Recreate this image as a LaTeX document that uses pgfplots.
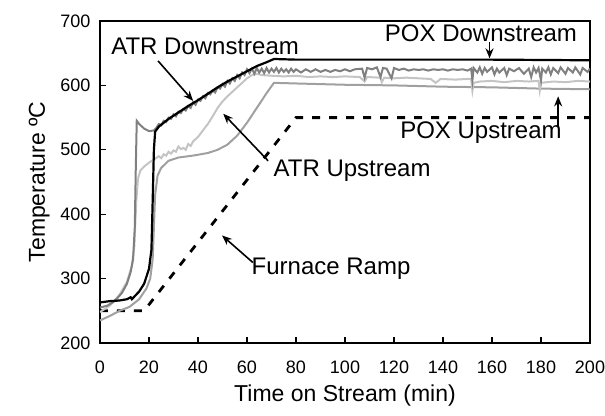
\documentclass[border=0pt]{standalone}
\usepackage{fontspec}
\setmainfont{Liberation Sans}
\usepackage{pgfplots}
\pgfplotsset{compat=1.18}
\usetikzlibrary{arrows.meta}

\definecolor{atrdown}{RGB}{128,128,128}
\definecolor{atrup}{RGB}{196,196,196}
\definecolor{poxup}{RGB}{160,160,160}

\begin{document}
\begin{tikzpicture}
\useasboundingbox (-100bp,-73bp) rectangle (505bp,343bp);
\begin{axis}[
  scale only axis,
  width=490bp, height=322bp,
  xmin=0, xmax=200, ymin=200, ymax=700,
  xtick={0,20,...,200}, ytick={200,300,...,700},
  tick align=inside, xtick pos=left, ytick pos=left,
  major tick length=6bp,
  axis line style={line width=1.3bp},
  every tick/.style={line width=1.1bp, black},
  /pgf/number format/assume math mode=true,
  ticklabel style={font=\fontsize{18bp}{20bp}\selectfont},
  xticklabel style={yshift=-14bp},
  yticklabel style={xshift=-6bp},
  label style={font=\fontsize{23bp}{26bp}\selectfont},
  xlabel={Time on Stream (min)},
  ylabel={Temperature ºC},
  xlabel style={yshift=-5bp},
  ylabel style={yshift=4bp},
  clip=true,
]
% Furnace ramp set point
\addplot[black, line width=2.8bp, dash pattern=on 8bp off 9bp] coordinates {
  (0,250) (18,250) (80,550) (200,550)
};
% POX upstream thermocouple
\addplot[poxup, line width=2bp] coordinates {
  (0,235) (4,242) (8,250) (12,256) (16,268) (19,285) (20.5,300) (21.5,330)
  (22,380) (22.5,430) (23.5,460) (25,472) (28,483) (32,488) (38,491) (44,495)
  (48,500) (52,508) (56,522) (60,542) (64,565) (68,588) (71,604) (80,603)
  (100,601) (120,600) (140,598) (160,597) (180,595) (200,594)
};
% ATR upstream thermocouple
\addplot[atrup, line width=2bp] coordinates {
  (0,248) (4,258) (8,275) (11,295) (13,320) (14,350) (14.8,420) (15.5,455)
  (16.5,468) (18,474) (20,480) (22,485) (24,490) (25,487) (26,493) (27,491)
  (28,497) (29,494) (30,499) (31,497) (32,505) (33,501) (34,503) (35,500)
  (36,509) (37,506) (38,513) (40,520) (42,530) (44,540) (46,552) (48,565)
  (50,575) (52,583) (54,590) (56,597) (58,604) (60,611) (62,616) (64,618)
  (66,616) (70,615) (75,614) (80,615) (85,613) (90,614) (95,613) (100,614)
  (106,613) (108,606) (109,613) (114.5,612) (115,605) (116,612) (120,611)
  (125,612) (130,611) (135,610) (137,604) (139,610) (145,609) (150,610)
  (151.5,610) (152,592) (152.5,604) (155,606) (160,607) (165,605) (170,607)
  (175,606) (179,607) (179.5,592) (180,604) (185,606) (190,605) (195,607)
  (200,606)
};
% ATR downstream thermocouple
\addplot[atrdown, line width=2bp] coordinates {
  (0,255) (3,258) (6,265) (9,278) (11,292) (12.5,310) (13.5,330) (14.2,380)
  (14.6,470) (15,545) (16,540) (18,533) (20,529) (22,530) (23,534) (24,540)
  (25,538) (26,545) (27,543) (28,550) (29,548) (30,555) (31,552) (32,559)
  (33,557) (34,563) (35,561) (36,568) (37,565) (38,574) (39,570) (40,578)
  (41,576) (42,583) (43,580) (44,588) (45,586) (46,592) (47,589) (48,597)
  (49,595) (50,602) (51,598) (52,607) (53,603) (54,611) (55,607) (56,616)
  (57,611) (58,620) (59,616) (60,625) (61,619) (62,626) (63,618) (64,627)
  (65,620) (66,626) (67,619) (68,627) (69,620) (70,626) (71,621) (72,627)
  (73,620) (74,626) (75,621) (76,625) (77,620) (78,626) (79,621) (80,625)
  (82,620) (84,625) (86,621) (88,625) (90,621) (92,624) (94,621) (96,624)
  (98,622) (100,625) (102,622) (104,625) (107,626) (108,612) (109,627)
  (111,625) (113,628) (114.5,613) (115.5,627) (117,626) (119,611) (120,627)
  (122,624) (124,626) (126,623) (128,625) (130,624) (132,625) (134,623)
  (136,625) (138,624) (140,625) (142,623) (144,625) (146,624) (148,625)
  (150,623) (151.5,626) (152,608) (152.5,627) (154,620) (155,628) (156,618)
  (157,627) (158,621) (160,628) (161,617) (162,626) (163,620) (165,627)
  (166,616) (167,626) (169,622) (171,627) (173,618) (175,626) (176,613)
  (177,628) (178,620) (179,627) (180,608) (180.5,626) (182,620) (183,628)
  (184,617) (185,627) (187,619) (188,628) (190,618) (191,627) (193,620)
  (194,628) (196,617) (197,627) (199,621) (200,626)
};
% POX downstream thermocouple
\addplot[black, line width=2.2bp] coordinates {
  (0,263) (4,265) (8,266) (11,268) (12.5,271) (13,268) (14,272) (16,280)
  (18,292) (20,315) (21,345) (21.5,420) (22,500) (22.5,528) (24,536) (28,548)
  (32,558) (36,568) (40,577) (44,587) (48,597) (52,606) (56,614) (60,622)
  (64,630) (68,636) (71,641) (80,640) (120,640) (160,640) (200,639)
};

% labels with leader arrows
\tikzset{lbl/.style={font=\fontsize{24bp}{28bp}\selectfont, inner sep=0pt},
         ldr/.style={line width=1.6bp, -{Stealth[length=10bp,width=8bp]}}}
\node[lbl] at (axis cs:42.9,661) {ATR Downstream};
\draw[ldr] (axis cs:23.7,638) -- (axis cs:38,576);
\node[lbl] at (axis cs:102.9,468) {ATR Upstream};
\draw[ldr] (axis cs:68.6,483) -- (axis cs:50.3,556);
\node[lbl] at (axis cs:155.5,681) {POX Downstream};
\draw[ldr] (axis cs:159,667) -- (axis cs:159,642);
\node[lbl] at (axis cs:155.5,527) {POX Upstream};
\draw[ldr] (axis cs:187,537) -- (axis cs:187,583);
\node[lbl] at (axis cs:94.3,316) {Furnace Ramp};
\draw[ldr] (axis cs:62.4,325) -- (axis cs:49.8,367);
\end{axis}
\end{tikzpicture}
\end{document}
